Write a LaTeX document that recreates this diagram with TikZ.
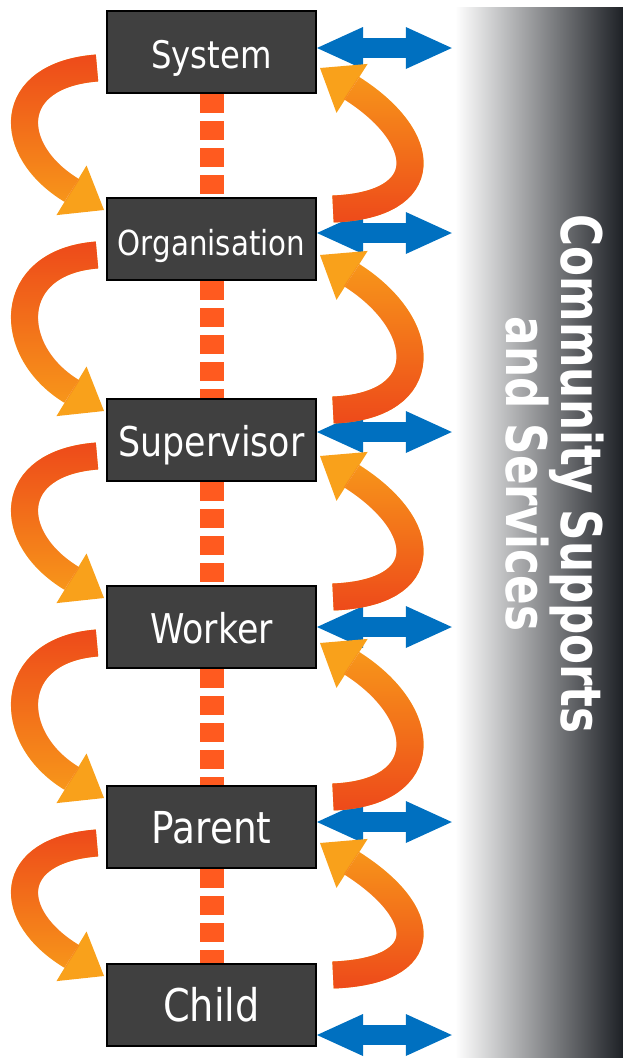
\documentclass[tikz,border=0pt]{standalone}
\usepackage{fontspec}
\setmainfont{DejaVu Sans}[FakeStretch=0.85]
\newfontfamily\barfont{DejaVu Sans}[FakeStretch=0.78]
\usetikzlibrary{arrows.meta,fadings}

\definecolor{boxgrey}{HTML}{404040}
\definecolor{linkred}{HTML}{FF5A1F}
\definecolor{swapblue}{HTML}{0070C0}
\definecolor{curlred}{HTML}{EE4A1A}
\definecolor{curlorange}{HTML}{F9A11B}
\definecolor{bardark}{HTML}{1E2126}

\tikzfading[name=fadetop, top color=transparent!0, bottom color=transparent!100]
\tikzfading[name=fadebottom, top color=transparent!100, bottom color=transparent!0]

\begin{document}
\begin{tikzpicture}[x=1pt,y=-1pt,
  box/.style={draw=black,line width=2pt,fill=boxgrey,text=white,minimum width=209pt,minimum height=82pt,inner sep=0pt,text height=32pt,text depth=0pt},
  link/.style={draw=linkred,line width=24pt,dash pattern=on 19pt off 8pt},
  swap/.style={draw=swapblue,line width=20pt,shorten >=3pt,{Triangle[width=42pt,length=46pt,line width=0pt]}-{Triangle[width=42pt,length=46pt,line width=0pt]}},
  curl/.style={draw=curlorange,line width=27pt,-{Triangle[width=58pt,length=38pt,line width=0pt]}},
  curldown/.style={curl,postaction={draw=curlred,path fading=fadetop,arrows=-,shorten >=37pt}},
  curlup/.style={curl,postaction={draw=curlred,path fading=fadebottom,arrows=-,shorten >=37pt}}]
\useasboundingbox (0,0) rectangle (623,1058);

% community bar
\node[minimum width=168pt,minimum height=1051pt,inner sep=0pt,left color=white,right color=bardark] (comm) at (539,532.5) {};
\node[rotate=-90,text=white,align=center,font=\barfont\bfseries\fontsize{56}{54}\selectfont] (commtext) at (555,474) {Community Supports\\and Services};

% levels
\node[box,font=\fontsize{38}{40}\selectfont] (sys) at (211.5,52)   {System};
\node[box,font=\fontsize{34.5}{36}\selectfont] (org) at (211.5,239)  {Organisation};
\node[box,font=\fontsize{41}{44}\selectfont] (sup) at (211.5,440)  {Supervisor};
\node[box,font=\fontsize{41}{44}\selectfont] (wrk) at (211.5,627)  {Worker};
\node[box,font=\fontsize{44}{46}\selectfont] (par) at (211.5,827)  {Parent};
\node[box,font=\fontsize{45}{48}\selectfont] (chd) at (211.5,1005) {Child};

\draw[link] (sys.south) -- (org.north);
\draw[link] (org.south) -- (sup.north);
\draw[link] (sup.south) -- (wrk.north);
\draw[link] (wrk.south) -- (par.north);
\draw[link] (par.south) -- (chd.north);

% links to the community
\coordinate (sysin) at ([yshift=4pt]sys.east);
\coordinate (orgin) at ([yshift=6pt]org.east);
\coordinate (supin) at ([yshift=8pt]sup.east);
\coordinate (wrkin) at (wrk.east);
\coordinate (parin) at ([yshift=5pt]par.east);
\coordinate (chdin) at ([yshift=-30pt]chd.east);
\draw[swap] (sysin) -- (sysin -| comm.west);
\draw[swap] (orgin) -- (orgin -| comm.west);
\draw[swap] (supin) -- (supin -| comm.west);
\draw[swap] (wrkin) -- (wrkin -| comm.west);
\draw[swap] (parin) -- (parin -| comm.west);
\draw[swap] (chdin) -- (chdin -| comm.west);

% down the left side
\draw[curldown] ([xshift=-9pt,yshift=-16pt]sys.west) .. controls +(-92,7) and +(-99,-60) .. ([xshift=-2pt,yshift=-13pt]org.north west);
\draw[curldown] ([xshift=-9pt,yshift=-16pt]org.west) .. controls +(-92,7) and +(-99,-60) .. ([xshift=-2pt,yshift=-13pt]sup.north west);
\draw[curldown] ([xshift=-9pt,yshift=-16pt]sup.west) .. controls +(-92,7) and +(-99,-60) .. ([xshift=-2pt,yshift=-13pt]wrk.north west);
\draw[curldown] ([xshift=-9pt,yshift=-16pt]wrk.west) .. controls +(-92,7) and +(-99,-60) .. ([xshift=-2pt,yshift=-13pt]par.north west);
\draw[curldown] ([xshift=-9pt,yshift=-16pt]par.west) .. controls +(-92,7) and +(-99,-60) .. ([xshift=-2pt,yshift=-13pt]chd.north west);

% up the right side
\draw[curlup] ([xshift=16pt,yshift=-12pt]org.north east) .. controls +(102,-4) and +(110,70) .. ([xshift=3pt,yshift=26pt]sys.south east);
\draw[curlup] ([xshift=16pt,yshift=-12pt]sup.north east) .. controls +(102,-4) and +(110,70) .. ([xshift=3pt,yshift=26pt]org.south east);
\draw[curlup] ([xshift=16pt,yshift=-12pt]wrk.north east) .. controls +(102,-4) and +(110,70) .. ([xshift=3pt,yshift=26pt]sup.south east);
\draw[curlup] ([xshift=16pt,yshift=-12pt]par.north east) .. controls +(102,-4) and +(110,70) .. ([xshift=3pt,yshift=26pt]wrk.south east);
\draw[curlup] ([xshift=16pt,yshift=-12pt]chd.north east) .. controls +(102,-4) and +(110,70) .. ([xshift=3pt,yshift=26pt]par.south east);
\end{tikzpicture}
\end{document}
